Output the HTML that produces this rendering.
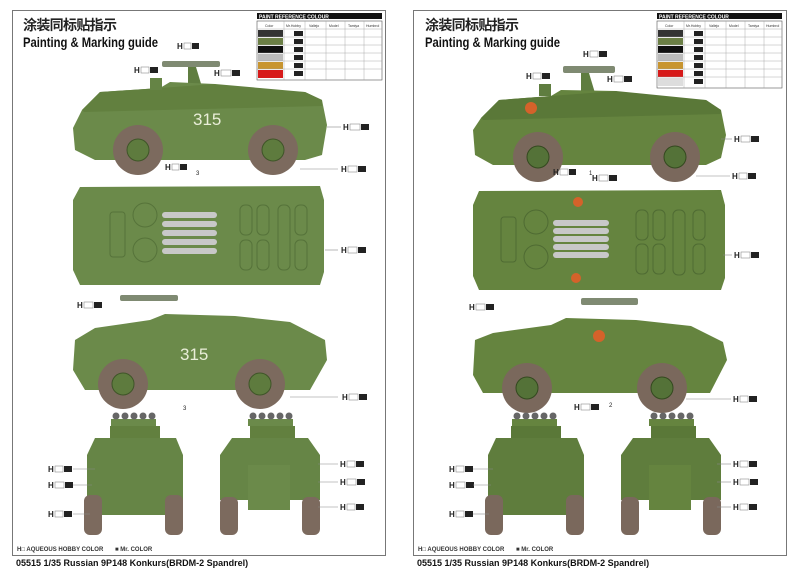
<!DOCTYPE html>
<html><head><meta charset="utf-8"><style>
html,body{margin:0;padding:0;background:#fff;width:800px;height:575px;overflow:hidden}
svg{display:block}
text{font-family:"Liberation Sans","Noto Sans CJK SC",sans-serif}
</style></head><body>
<svg width="800" height="575" viewBox="0 0 800 575" xmlns="http://www.w3.org/2000/svg">
<rect width="800" height="575" fill="#fff"/>
<!-- LEFT PAGE -->
<g>
<rect x="12.5" y="10.5" width="373" height="545" fill="#fff" stroke="#777" stroke-width="1"/>
<text x="23" y="30" font-size="14" font-weight="bold" fill="#222" textLength="94">涂装同标贴指示</text>
<text x="23" y="47" font-size="14" font-weight="bold" fill="#111" textLength="135" lengthAdjust="spacingAndGlyphs">Painting &amp; Marking guide</text>
<rect x="257" y="13" width="125" height="6" fill="#111"/>
<text x="259" y="18.5" font-size="5" font-weight="bold" fill="#fff">PAINT REFERENCE COLOUR</text>
<rect x="257" y="21" width="125" height="59" fill="#fff" stroke="#555" stroke-width="0.6"/>
<rect x="258" y="30" width="25" height="7" fill="#333"/>
<rect x="258" y="38" width="25" height="7" fill="#6b7f45"/>
<rect x="258" y="46" width="25" height="7" fill="#111"/>
<rect x="258" y="54" width="25" height="7" fill="#bbb"/>
<rect x="258" y="62" width="25" height="7" fill="#c89530"/>
<rect x="258" y="70" width="25" height="8" fill="#d71a1a"/>
<g stroke="#999" stroke-width="0.4"><line x1="257" y1="29" x2="382" y2="29"/><line x1="257" y1="37" x2="382" y2="37"/><line x1="257" y1="45" x2="382" y2="45"/><line x1="257" y1="53" x2="382" y2="53"/><line x1="257" y1="61" x2="382" y2="61"/><line x1="257" y1="69" x2="382" y2="69"/><line x1="284" y1="21" x2="284" y2="80"/><line x1="305" y1="21" x2="305" y2="80"/><line x1="326" y1="21" x2="326" y2="80"/><line x1="345" y1="21" x2="345" y2="80"/><line x1="364" y1="21" x2="364" y2="80"/></g>
<g font-size="3.5" fill="#333"><text x="265" y="27">Color</text><text x="286" y="27">Mr.Hobby</text><text x="309" y="27">Vallejo</text><text x="329" y="27">Model</text><text x="348" y="27">Tamiya</text><text x="366" y="27">Humbrol</text></g>
<g fill="#222"><rect x="294" y="31" width="9" height="5"/><rect x="294" y="39" width="9" height="5"/><rect x="294" y="47" width="9" height="5"/><rect x="294" y="55" width="9" height="5"/><rect x="294" y="63" width="9" height="5"/><rect x="294" y="71" width="9" height="5"/></g>
<!-- side view 1 -->
<rect x="162" y="61" width="58" height="6" rx="2" fill="#7f8a72"/>
<path d="M188 67 l8 0 l6 20 l-14 0z" fill="#5f7d40"/>
<path d="M82 110 L100 92 L160 88 L170 82 L215 84 L225 90 L305 92 L322 100 L327 125 L322 155 L305 160 L95 160 L75 150 L73 128 Z" fill="#6b8a4a"/>
<path d="M82 110 L100 92 L160 88 L215 84 L305 92 L322 100 L322 106 L84 112Z" fill="#62803f"/>
<rect x="150" y="78" width="12" height="12" fill="#658445"/>
<text x="193" y="125" font-size="17" fill="#e9eed8">315</text>
<circle cx="138" cy="150" r="25" fill="#7c6a5e"/><circle cx="138" cy="150" r="11" fill="#5e7b3e" stroke="#3f5528"/>
<circle cx="273" cy="150" r="25" fill="#7c6a5e"/><circle cx="273" cy="150" r="11" fill="#5e7b3e" stroke="#3f5528"/>
<!-- top view -->
<path d="M80 187 L320 186 L324 200 L324 272 L320 285 L80 285 L73 270 L73 200Z" fill="#6b8a4a"/>
<g fill="#c8c8c8"><rect x="162" y="212" width="55" height="6" rx="3"/><rect x="162" y="221" width="55" height="6" rx="3"/><rect x="162" y="230" width="55" height="6" rx="3"/><rect x="162" y="239" width="55" height="6" rx="3"/><rect x="162" y="248" width="55" height="6" rx="3"/></g>
<g fill="none" stroke="#56733a"><rect x="240" y="205" width="12" height="30" rx="5"/><rect x="240" y="240" width="12" height="30" rx="5"/><rect x="257" y="205" width="12" height="30" rx="5"/><rect x="257" y="240" width="12" height="30" rx="5"/><rect x="278" y="205" width="12" height="65" rx="5"/><rect x="295" y="205" width="12" height="30" rx="5"/><rect x="295" y="240" width="12" height="30" rx="5"/><rect x="110" y="212" width="15" height="45" rx="3"/><circle cx="145" cy="215" r="12"/><circle cx="145" cy="250" r="12"/></g>
<!-- side view 2 -->
<rect x="120" y="295" width="58" height="6" rx="2" fill="#7f8a72"/>
<path d="M75 340 L95 328 L150 320 L165 314 L235 316 L290 322 L325 340 L327 360 L310 390 L85 390 L73 370Z" fill="#6b8a4a"/>
<text x="180" y="360" font-size="17" fill="#e9eed8">315</text>
<circle cx="123" cy="384" r="25" fill="#7c6a5e"/><circle cx="123" cy="384" r="11" fill="#5e7b3e" stroke="#3f5528"/>
<circle cx="260" cy="384" r="25" fill="#7c6a5e"/><circle cx="260" cy="384" r="11" fill="#5e7b3e" stroke="#3f5528"/>
<!-- front -->
<rect x="111" y="419" width="45" height="7" fill="#6b8a4a"/>
<g fill="#666"><circle cx="116" cy="416" r="3.5"/><circle cx="125" cy="416" r="3.5"/><circle cx="134" cy="416" r="3.5"/><circle cx="143" cy="416" r="3.5"/><circle cx="152" cy="416" r="3.5"/></g>
<rect x="110" y="426" width="50" height="12" fill="#62803f"/>
<path d="M95 438 L176 438 L183 455 L183 515 L87 515 L87 455Z" fill="#668546"/>
<rect x="84" y="495" width="18" height="40" rx="6" fill="#7c6a5e"/><rect x="165" y="495" width="18" height="40" rx="6" fill="#7c6a5e"/>
<!-- rear -->
<rect x="248" y="419" width="45" height="7" fill="#6b8a4a"/>
<g fill="#666"><circle cx="253" cy="416" r="3.5"/><circle cx="262" cy="416" r="3.5"/><circle cx="271" cy="416" r="3.5"/><circle cx="280" cy="416" r="3.5"/><circle cx="289" cy="416" r="3.5"/></g>
<rect x="250" y="426" width="45" height="12" fill="#62803f"/>
<path d="M232 438 L308 438 L320 455 L320 500 L220 500 L220 455Z" fill="#668546"/>
<rect x="248" y="465" width="42" height="45" fill="#6b8a4a"/>
<rect x="220" y="497" width="18" height="38" rx="6" fill="#7c6a5e"/><rect x="302" y="497" width="18" height="38" rx="6" fill="#7c6a5e"/>
<!-- callouts -->
<g font-size="8" font-weight="bold" fill="#222">
<text x="177" y="49">H</text><text x="134" y="73">H</text><text x="214" y="76">H</text><text x="343" y="130">H</text><text x="165" y="170">H</text><text x="341" y="172">H</text><text x="341" y="253">H</text><text x="77" y="308">H</text><text x="342" y="400">H</text><text x="48" y="472">H</text><text x="48" y="488">H</text><text x="48" y="517">H</text><text x="340" y="467">H</text><text x="340" y="485">H</text><text x="340" y="510">H</text>
</g>
<g fill="#fff" stroke="#777" stroke-width="0.5"><rect x="184" y="43" width="7" height="6"/><rect x="141" y="67" width="8" height="6"/><rect x="221" y="70" width="10" height="6"/><rect x="350" y="124" width="10" height="6"/><rect x="172" y="164" width="7" height="6"/><rect x="348" y="166" width="9" height="6"/><rect x="348" y="247" width="9" height="6"/><rect x="84" y="302" width="9" height="6"/><rect x="349" y="394" width="9" height="6"/><rect x="55" y="466" width="8" height="6"/><rect x="55" y="482" width="9" height="6"/><rect x="55" y="511" width="8" height="6"/><rect x="347" y="461" width="8" height="6"/><rect x="347" y="479" width="9" height="6"/><rect x="347" y="504" width="8" height="6"/></g>
<g fill="#222"><rect x="192" y="43" width="7" height="6"/><rect x="150" y="67" width="8" height="6"/><rect x="232" y="70" width="8" height="6"/><rect x="361" y="124" width="8" height="6"/><rect x="180" y="164" width="7" height="6"/><rect x="358" y="166" width="8" height="6"/><rect x="358" y="247" width="8" height="6"/><rect x="94" y="302" width="8" height="6"/><rect x="359" y="394" width="8" height="6"/><rect x="64" y="466" width="8" height="6"/><rect x="65" y="482" width="8" height="6"/><rect x="64" y="511" width="8" height="6"/><rect x="356" y="461" width="8" height="6"/><rect x="357" y="479" width="8" height="6"/><rect x="356" y="504" width="8" height="6"/></g>
<g stroke="#888" stroke-width="0.6"><line x1="327" y1="127" x2="341" y2="127"/><line x1="300" y1="169" x2="338" y2="169"/><line x1="325" y1="250" x2="338" y2="250"/><line x1="290" y1="397" x2="338" y2="397"/><line x1="73" y1="469" x2="95" y2="469"/><line x1="73" y1="485" x2="92" y2="485"/><line x1="73" y1="514" x2="90" y2="514"/><line x1="318" y1="464" x2="338" y2="464"/><line x1="318" y1="482" x2="338" y2="482"/><line x1="318" y1="507" x2="338" y2="507"/></g>
<text x="196" y="175" font-size="6" fill="#222">3</text><text x="183" y="410" font-size="6" fill="#222">3</text>
<text x="17" y="551" font-size="6" font-weight="bold" fill="#333">H□ AQUEOUS HOBBY COLOR &#160;&#160;&#160;&#160;&#160;&#160;■ Mr. COLOR</text>
<text x="16" y="566" font-size="9" font-weight="bold" fill="#111">05515  1/35  Russian 9P148 Konkurs(BRDM-2 Spandrel)</text>
</g>
<!-- RIGHT PAGE -->
<g transform="translate(401,0)">
<rect x="12.5" y="10.5" width="373" height="545" fill="#fff" stroke="#777" stroke-width="1"/>
<text x="24" y="30" font-size="14" font-weight="bold" fill="#222" textLength="94">涂装同标贴指示</text>
<text x="24" y="47" font-size="14" font-weight="bold" fill="#111" textLength="135" lengthAdjust="spacingAndGlyphs">Painting &amp; Marking guide</text>
<rect x="256" y="13" width="125" height="6" fill="#111"/>
<text x="258" y="18.5" font-size="5" font-weight="bold" fill="#fff">PAINT REFERENCE COLOUR</text>
<rect x="256" y="21" width="125" height="67" fill="#fff" stroke="#555" stroke-width="0.6"/>
<rect x="257" y="30" width="25" height="7" fill="#333"/><rect x="257" y="38" width="25" height="7" fill="#6b7f45"/><rect x="257" y="46" width="25" height="7" fill="#111"/><rect x="257" y="54" width="25" height="7" fill="#bbb"/><rect x="257" y="62" width="25" height="7" fill="#c89530"/><rect x="257" y="70" width="25" height="7" fill="#d71a1a"/><rect x="257" y="78" width="25" height="8" fill="#ddd"/>
<g stroke="#999" stroke-width="0.4"><line x1="256" y1="29" x2="381" y2="29"/><line x1="256" y1="37" x2="381" y2="37"/><line x1="256" y1="45" x2="381" y2="45"/><line x1="256" y1="53" x2="381" y2="53"/><line x1="256" y1="61" x2="381" y2="61"/><line x1="256" y1="69" x2="381" y2="69"/><line x1="256" y1="77" x2="381" y2="77"/><line x1="283" y1="21" x2="283" y2="88"/><line x1="304" y1="21" x2="304" y2="88"/><line x1="325" y1="21" x2="325" y2="88"/><line x1="344" y1="21" x2="344" y2="88"/><line x1="363" y1="21" x2="363" y2="88"/></g>
<g fill="#222"><rect x="293" y="31" width="9" height="5"/><rect x="293" y="39" width="9" height="5"/><rect x="293" y="47" width="9" height="5"/><rect x="293" y="55" width="9" height="5"/><rect x="293" y="63" width="9" height="5"/><rect x="293" y="71" width="9" height="5"/><rect x="293" y="79" width="9" height="5"/></g>
<g font-size="3.5" fill="#333"><text x="264" y="27">Color</text><text x="285" y="27">Mr.Hobby</text><text x="308" y="27">Vallejo</text><text x="328" y="27">Model</text><text x="347" y="27">Tamiya</text><text x="365" y="27">Humbrol</text></g>
<!-- side 1 -->
<rect x="162" y="66" width="52" height="7" rx="2" fill="#7f8a72"/>
<path d="M180 73 l8 0 l6 20 l-14 0z" fill="#5f7d40"/>
<path d="M80 118 L98 100 L150 96 L160 90 L215 91 L230 98 L305 100 L320 110 L325 135 L320 158 L305 165 L92 165 L74 155 L72 130Z" fill="#65843f"/>
<path d="M80 118 L98 100 L150 96 L215 91 L305 100 L320 110 L320 114 L82 120Z" fill="#5a7838"/>
<rect x="138" y="84" width="12" height="12" fill="#5f7d40"/>
<circle cx="130" cy="108" r="6" fill="#d4622a"/>
<circle cx="137" cy="157" r="25" fill="#7a685c"/><circle cx="137" cy="157" r="11" fill="#547238" stroke="#34491f"/>
<circle cx="274" cy="157" r="25" fill="#7a685c"/><circle cx="274" cy="157" r="11" fill="#547238" stroke="#34491f"/>
<!-- top view -->
<path d="M78 191 L320 190 L324 205 L324 278 L320 290 L78 290 L72 276 L72 205Z" fill="#65843f"/>
<g fill="#c8c8c8"><rect x="152" y="220" width="56" height="6" rx="3"/><rect x="152" y="228" width="56" height="6" rx="3"/><rect x="152" y="236" width="56" height="6" rx="3"/><rect x="152" y="244" width="56" height="6" rx="3"/><rect x="152" y="252" width="56" height="6" rx="3"/></g>
<circle cx="177" cy="202" r="5" fill="#d4622a"/><circle cx="175" cy="278" r="5" fill="#d4622a"/>
<g fill="none" stroke="#4f6b33"><rect x="235" y="210" width="12" height="30" rx="5"/><rect x="235" y="244" width="12" height="30" rx="5"/><rect x="252" y="210" width="12" height="30" rx="5"/><rect x="252" y="244" width="12" height="30" rx="5"/><rect x="272" y="210" width="12" height="65" rx="5"/><rect x="292" y="210" width="12" height="30" rx="5"/><rect x="292" y="244" width="12" height="30" rx="5"/><rect x="100" y="217" width="15" height="45" rx="3"/><circle cx="135" cy="222" r="12"/><circle cx="135" cy="257" r="12"/></g>
<!-- side 2 -->
<rect x="180" y="298" width="57" height="7" rx="2" fill="#7f8a72"/>
<path d="M74 340 L92 333 L150 325 L165 318 L235 320 L290 326 L322 342 L326 360 L309 393 L82 393 L72 375Z" fill="#65843f"/>
<circle cx="198" cy="336" r="6" fill="#d4622a"/>
<circle cx="126" cy="388" r="25" fill="#7a685c"/><circle cx="126" cy="388" r="11" fill="#547238" stroke="#34491f"/>
<circle cx="261" cy="388" r="25" fill="#7a685c"/><circle cx="261" cy="388" r="11" fill="#547238" stroke="#34491f"/>
<!-- front -->
<rect x="111" y="419" width="45" height="7" fill="#65843f"/>
<g fill="#666"><circle cx="116" cy="416" r="3.5"/><circle cx="125" cy="416" r="3.5"/><circle cx="134" cy="416" r="3.5"/><circle cx="143" cy="416" r="3.5"/><circle cx="152" cy="416" r="3.5"/></g>
<rect x="110" y="426" width="50" height="12" fill="#5a7838"/>
<path d="M95 438 L176 438 L183 455 L183 515 L87 515 L87 455Z" fill="#5f7d3d"/>
<rect x="84" y="495" width="18" height="40" rx="6" fill="#7a685c"/><rect x="165" y="495" width="18" height="40" rx="6" fill="#7a685c"/>
<!-- rear -->
<rect x="248" y="419" width="45" height="7" fill="#65843f"/>
<g fill="#666"><circle cx="253" cy="416" r="3.5"/><circle cx="262" cy="416" r="3.5"/><circle cx="271" cy="416" r="3.5"/><circle cx="280" cy="416" r="3.5"/><circle cx="289" cy="416" r="3.5"/></g>
<rect x="250" y="426" width="45" height="12" fill="#5a7838"/>
<path d="M232 438 L308 438 L320 455 L320 500 L220 500 L220 455Z" fill="#5f7d3d"/>
<rect x="248" y="465" width="42" height="45" fill="#65843f"/>
<rect x="220" y="497" width="18" height="38" rx="6" fill="#7a685c"/><rect x="302" y="497" width="18" height="38" rx="6" fill="#7a685c"/>
<!-- callouts -->
<g font-size="8" font-weight="bold" fill="#222"><text x="182" y="57">H</text><text x="125" y="79">H</text><text x="206" y="82">H</text><text x="333" y="142">H</text><text x="152" y="175">H</text><text x="191" y="181">H</text><text x="331" y="179">H</text><text x="333" y="258">H</text><text x="68" y="310">H</text><text x="332" y="402">H</text><text x="173" y="410">H</text><text x="48" y="472">H</text><text x="48" y="488">H</text><text x="48" y="517">H</text><text x="332" y="467">H</text><text x="332" y="485">H</text><text x="332" y="510">H</text></g>
<g fill="#fff" stroke="#777" stroke-width="0.5"><rect x="189" y="51" width="8" height="6"/><rect x="132" y="73" width="8" height="6"/><rect x="213" y="76" width="9" height="6"/><rect x="340" y="136" width="9" height="6"/><rect x="159" y="169" width="8" height="6"/><rect x="198" y="175" width="9" height="6"/><rect x="338" y="173" width="8" height="6"/><rect x="340" y="252" width="9" height="6"/><rect x="75" y="304" width="9" height="6"/><rect x="339" y="396" width="8" height="6"/><rect x="180" y="404" width="9" height="6"/><rect x="55" y="466" width="8" height="6"/><rect x="55" y="482" width="9" height="6"/><rect x="55" y="511" width="8" height="6"/><rect x="339" y="461" width="8" height="6"/><rect x="339" y="479" width="9" height="6"/><rect x="339" y="504" width="8" height="6"/></g>
<g fill="#222"><rect x="198" y="51" width="8" height="6"/><rect x="141" y="73" width="8" height="6"/><rect x="223" y="76" width="8" height="6"/><rect x="350" y="136" width="8" height="6"/><rect x="168" y="169" width="7" height="6"/><rect x="208" y="175" width="8" height="6"/><rect x="347" y="173" width="8" height="6"/><rect x="350" y="252" width="8" height="6"/><rect x="85" y="304" width="8" height="6"/><rect x="348" y="396" width="8" height="6"/><rect x="190" y="404" width="8" height="6"/><rect x="64" y="466" width="8" height="6"/><rect x="65" y="482" width="8" height="6"/><rect x="64" y="511" width="8" height="6"/><rect x="348" y="461" width="8" height="6"/><rect x="349" y="479" width="8" height="6"/><rect x="348" y="504" width="8" height="6"/></g>
<g stroke="#888" stroke-width="0.6"><line x1="320" y1="139" x2="331" y2="139"/><line x1="295" y1="176" x2="329" y2="176"/><line x1="322" y1="255" x2="331" y2="255"/><line x1="285" y1="399" x2="330" y2="399"/><line x1="72" y1="469" x2="92" y2="469"/><line x1="72" y1="485" x2="90" y2="485"/><line x1="72" y1="514" x2="88" y2="514"/><line x1="316" y1="464" x2="330" y2="464"/><line x1="316" y1="482" x2="330" y2="482"/><line x1="316" y1="507" x2="330" y2="507"/></g>
<text x="188" y="175" font-size="6" fill="#222">1</text><text x="208" y="407" font-size="6" fill="#222">2</text>
<text x="17" y="551" font-size="6" font-weight="bold" fill="#333">H□ AQUEOUS HOBBY COLOR &#160;&#160;&#160;&#160;&#160;&#160;■ Mr. COLOR</text>
<text x="16" y="566" font-size="9" font-weight="bold" fill="#111">05515  1/35  Russian 9P148 Konkurs(BRDM-2 Spandrel)</text>
</g>
</svg>
</body></html>
